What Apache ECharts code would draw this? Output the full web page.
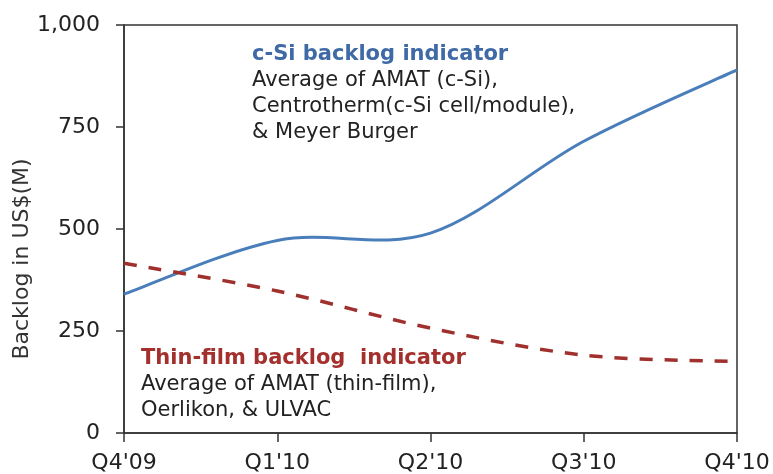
<!DOCTYPE html>
<html>
<head>
<meta charset="utf-8">
<script src="https://cdn.jsdelivr.net/npm/echarts@6/dist/echarts.min.js"></script>
<style>
html,body{margin:0;padding:0;background:#fff;}
#chart{width:773px;height:474px;}
</style>
</head>
<body>
<div id="chart"></div>
<script>
var categories = ["Q4'09", "Q1'10", "Q2'10", "Q3'10", "Q4'10"];
var cSiBacklog = [340, 472, 490, 715, 890];
var thinFilmBacklog = [416, 348, 257, 191, 175];
var yTicks = [0, 250, 500, 750, 1000];
var yAxisTitle = 'Backlog in US$(M)';
var cSiNote = ['c-Si backlog indicator', 'Average of AMAT (c-Si),', 'Centrotherm(c-Si cell/module),', '& Meyer Burger'];
var thinNote = ['Thin-film backlog  indicator', 'Average of AMAT (thin-film),', 'Oerlikon, & ULVAC'];

var FONT = 'DejaVu Sans';
var chart = echarts.init(document.getElementById('chart'));

function richBlock(lines, titleColor) {
  var parts = ['{t|' + lines[0] + '}'];
  for (var i = 1; i < lines.length; i++) parts.push('{r|' + lines[i] + '}');
  return {
    text: parts.join('\n'),
    rich: {
      t: {fontFamily: FONT, fontSize: 21, fontWeight: 'bold', fill: titleColor, color: titleColor, lineHeight: 26},
      r: {fontFamily: FONT, fontSize: 21, fill: '#222', color: '#222', lineHeight: 26}
    }
  };
}

// Excel-style smoothed line (Catmull-Rom via cubic Bezier), positioned through the axes' coord()
function smoothRenderer(values, stroke, width, dash) {
  return function (params, api) {
    if (params.dataIndex !== 0) return null;
    var pts = values.map(function (v, i) { return api.coord([i, v]); });
    var n = pts.length;
    var d = 'M' + pts[0][0] + ' ' + pts[0][1];
    for (var i = 0; i < n - 1; i++) {
      var p0 = pts[i - 1] || pts[i], p1 = pts[i], p2 = pts[i + 1], p3 = pts[i + 2] || pts[i + 1];
      var c1x = p1[0] + (p2[0] - p0[0]) / 6, c1y = p1[1] + (p2[1] - p0[1]) / 6;
      var c2x = p2[0] - (p3[0] - p1[0]) / 6, c2y = p2[1] - (p3[1] - p1[1]) / 6;
      d += ' C' + c1x + ' ' + c1y + ' ' + c2x + ' ' + c2y + ' ' + p2[0] + ' ' + p2[1];
    }
    var style = {fill: 'none', stroke: stroke, lineWidth: width, lineCap: 'butt'};
    if (dash) style.lineDash = dash;
    return {type: 'path', shape: {pathData: d}, style: style, silent: true};
  };
}

function toData(values) { return values.map(function (v, i) { return [i, v]; }); }

chart.setOption({
  animation: false,
  backgroundColor: '#fff',
  grid: {left: 124, right: 36, top: 25, bottom: 41, show: true, borderColor: '#333', borderWidth: 1.5, containLabel: false},
  xAxis: {
    type: 'category',
    data: categories,
    boundaryGap: false,
    axisLine: {lineStyle: {color: '#333', width: 1.5}},
    axisTick: {show: true, length: 9, lineStyle: {color: '#333', width: 1.5}},
    axisLabel: {fontFamily: FONT, fontSize: 22, color: '#222', margin: 19},
    splitLine: {show: false}
  },
  yAxis: {
    type: 'value',
    min: yTicks[0],
    max: yTicks[yTicks.length - 1],
    interval: yTicks[1] - yTicks[0],
    axisLine: {show: true, lineStyle: {color: '#333', width: 1.5}},
    axisTick: {show: true, length: 8, lineStyle: {color: '#333', width: 1.5}},
    axisLabel: {fontFamily: FONT, fontSize: 22, color: '#222', margin: 24,
      formatter: function (v) { return v.toLocaleString('en-US'); }},
    splitLine: {show: false}
  },
  series: [
    {
      name: 'c-Si', type: 'custom', data: toData(cSiBacklog),
      encode: {x: 0, y: 1},
      renderItem: smoothRenderer(cSiBacklog, '#4a7ebb', 3, null)
    },
    {
      name: 'Thin-film', type: 'custom', data: toData(thinFilmBacklog),
      encode: {x: 0, y: 1},
      renderItem: smoothRenderer(thinFilmBacklog, '#a0302d', 3.5, [13, 12])
    }
  ],
  graphic: [
    {type: 'text', left: 252, top: 44, style: richBlock(cSiNote, '#3f6aa6')},
    {type: 'text', left: 141, top: 348, style: richBlock(thinNote, '#a3302c')},
    {type: 'text', x: 22, y: 259, rotation: Math.PI / 2,
      style: {text: yAxisTitle, fontFamily: FONT, fontSize: 22, fill: '#333', align: 'center', verticalAlign: 'middle'}}
  ]
});
</script>
</body>
</html>
